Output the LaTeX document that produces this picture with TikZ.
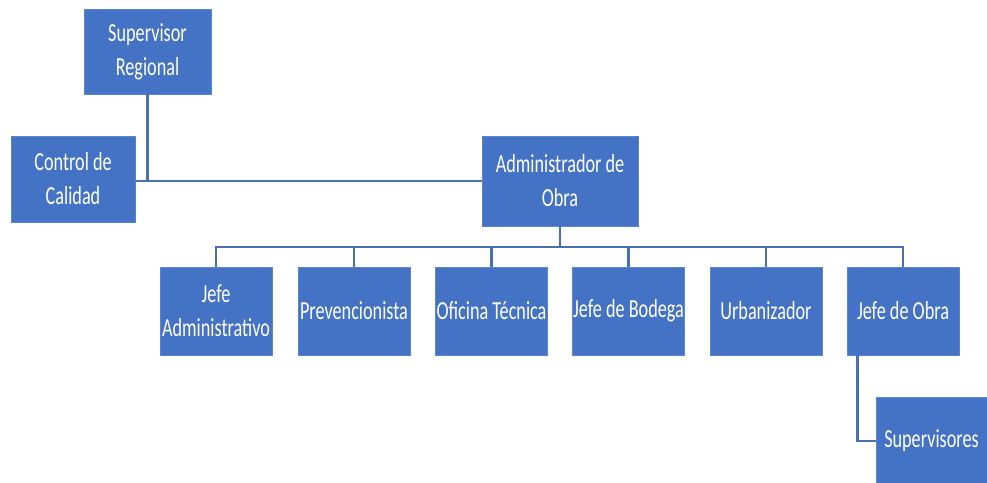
\documentclass[tikz,border=0pt]{standalone}
\usepackage{fontspec}
\setmainfont[FakeStretch=0.70]{Carlito}
\definecolor{cajaazul}{HTML}{4472C4}
\definecolor{bordeazul}{HTML}{5A86D0}
\definecolor{lineaazul}{HTML}{4A70B4}
\tikzset{
  caja/.style={fill=cajaazul, draw=bordeazul, line width=0.5pt, text=white, inner sep=0pt,
    align=center, font=\fontsize{14.8pt}{19.3pt}\selectfont},
  enlace/.style={draw=lineaazul, line width=1.3pt}
}
\begin{document}
\begin{tikzpicture}[x=0.02cm, y=-0.02cm]
        \useasboundingbox (0,0) rectangle (987,483);

        % Cajas superiores
        \node[caja, minimum width=2.54cm, minimum height=1.7cm] (supreg) at (147.5,51.5) {Supervisor\\Regional};
        \node[caja, minimum width=2.48cm, minimum height=1.72cm] (calidad) at (73,179) {Control de\\Calidad};
        \node[caja, minimum width=3.12cm, minimum height=1.8cm] (admin) at (560,181) {Administrador de\\Obra};

        % Fila de jefaturas
        \foreach \n/\x/\txt in {jadmin/216/{Jefe\\Administrativo}, prev/354/Prevencionista, ofic/491.5/Oficina Técnica,
                                bodega/628.5/Jefe de Bodega, urban/766/Urbanizador, jobra/903/Jefe de Obra}
            \node[caja, minimum width=2.24cm, minimum height=1.76cm] (\n) at (\x,311) {\txt};

        % Supervisores
        \node[caja, minimum width=2.22cm, minimum height=1.76cm] (superv) at (931.5,441) {Supervisores};

        % Enlaces
        \coordinate (bus) at (560,247);
        \draw[enlace] (supreg.south) -- (supreg.south |- admin.west);
        \draw[enlace] (calidad.east |- admin.west) -- (admin.west);
        \draw[enlace] (admin.south) -- (bus);
        \draw[enlace] (jadmin.north) -- (jadmin.north |- bus) -- (jobra.north |- bus) -- (jobra.north);
        \foreach \n in {prev, ofic, bodega, urban}
            \draw[enlace] (\n.north) -- (\n.north |- bus);
        \draw[enlace] ([xshift=0.22cm]jobra.south west) |- (superv.west);
    \end{tikzpicture}
\end{document}
